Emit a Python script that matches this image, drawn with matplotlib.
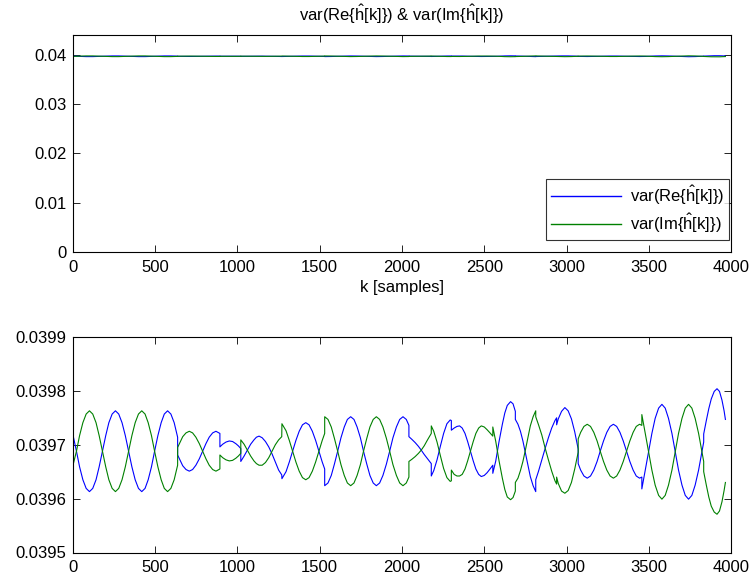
import matplotlib
matplotlib.use("Agg")
import matplotlib.pyplot as plt

plt.rcParams['font.family'] = ['Liberation Sans', 'DejaVu Sans']
plt.rcParams['mathtext.fontset'] = 'custom'
plt.rcParams['mathtext.rm'] = 'Liberation Sans'
plt.rcParams['mathtext.it'] = 'Liberation Sans'

# ---- data ----
k = [0, 21, 40, 60, 80, 100, 120, 140, 159, 179, 199, 218, 238, 258, 278, 298, 318, 338, 358, 378,
     398, 418, 438, 457, 477, 496, 516, 536, 555, 575, 595, 615, 636,
     636, 647, 667, 687, 707, 727, 747, 768, 788, 808, 828, 849, 869, 893,
     893, 910, 930, 950, 970, 990, 1005, 1020,
     1020, 1040, 1060, 1080, 1100, 1115, 1131, 1150, 1170, 1190, 1210, 1230, 1250, 1269,
     1270, 1295, 1315, 1335, 1355, 1375, 1395, 1415, 1435, 1455, 1475, 1495, 1515, 1530,
     1530, 1550, 1570, 1589, 1609, 1629, 1649, 1668, 1688, 1708, 1727, 1747, 1766, 1786, 1805,
     1825, 1844, 1864, 1884, 1905, 1925, 1945, 1966, 1986, 2006, 2026, 2042,
     2042, 2060, 2080, 2100, 2117, 2135, 2155, 2178,
     2178, 2193, 2213, 2233, 2253, 2273, 2293, 2300,
     2300, 2317, 2334, 2350, 2366, 2383, 2399, 2416, 2433, 2449, 2466, 2482, 2500, 2517, 2535, 2552,
     2552, 2570, 2590, 2610, 2625, 2640, 2660, 2675, 2689,
     2689, 2705, 2720, 2735, 2750, 2765, 2780, 2797, 2813,
     2813, 2830, 2850, 2870, 2890, 2910, 2930, 2940, 2940, 2950, 2970, 2990, 3010, 3030, 3050, 3071,
     3071, 3086, 3106, 3126, 3146, 3166, 3186, 3205, 3225, 3245, 3265, 3285, 3305, 3325, 3345,
     3365, 3385, 3405, 3424, 3444, 3458,
     3458, 3479, 3499, 3519, 3539, 3560, 3580, 3600, 3620, 3641, 3661, 3681, 3702, 3722, 3742,
     3762, 3782, 3803, 3823, 3834,
     3834, 3850, 3865, 3880, 3898, 3915, 3930, 3945, 3958, 3966]

var_re = [0.039718, 0.039688, 0.039659, 0.039635, 0.039619, 0.039613, 0.039619, 0.039635, 0.039659,
          0.039688, 0.039717, 0.039741, 0.039757, 0.039763, 0.039757, 0.039741, 0.039717, 0.039688,
          0.039659, 0.039635, 0.039619, 0.039613, 0.039619, 0.039635, 0.039659, 0.039688, 0.039717,
          0.039741, 0.039757, 0.039763, 0.039757, 0.039741, 0.039714,
          0.039681, 0.039674, 0.039661, 0.039654, 0.039651, 0.039654, 0.039662, 0.039674, 0.039688,
          0.039702, 0.039714, 0.039722, 0.039725, 0.039721,
          0.039696, 0.039701, 0.039705, 0.039707, 0.039706, 0.039702, 0.039698, 0.039693,
          0.039669, 0.039679, 0.039690, 0.039701, 0.039709, 0.039714, 0.039716, 0.039713, 0.039706,
          0.039696, 0.039683, 0.039668, 0.039653, 0.039644,
          0.039637, 0.039650, 0.039668, 0.039688, 0.039708, 0.039725, 0.039737, 0.039741, 0.039737,
          0.039725, 0.039708, 0.039688, 0.039668, 0.039655,
          0.039624, 0.039629, 0.039643, 0.039664, 0.039688, 0.039713, 0.039733, 0.039747, 0.039752,
          0.039747, 0.039733, 0.039713, 0.039688, 0.039664, 0.039643, 0.039629, 0.039624, 0.039629,
          0.039643, 0.039664, 0.039688, 0.039713, 0.039733, 0.039747, 0.039752, 0.039747, 0.039736,
          0.039715, 0.039710, 0.039704, 0.039697, 0.039690, 0.039682, 0.039674, 0.039665,
          0.039642, 0.039652, 0.039672, 0.039697, 0.039721, 0.039739, 0.039746, 0.039745,
          0.039727, 0.039731, 0.039734, 0.039735, 0.039731, 0.039721, 0.039706, 0.039688, 0.039670,
          0.039655, 0.039645, 0.039641, 0.039643, 0.039648, 0.039655, 0.039662,
          0.039647, 0.039670, 0.039706, 0.039738, 0.039759, 0.039773, 0.039780, 0.039776, 0.039762,
          0.039747, 0.039738, 0.039725, 0.039707, 0.039685, 0.039662, 0.039641, 0.039624, 0.039613,
          0.039635, 0.039651, 0.039672, 0.039693, 0.039713, 0.039731, 0.039745, 0.039750, 0.039737,
          0.039748, 0.039762, 0.039769, 0.039763, 0.039748, 0.039724, 0.039692,
          0.039665, 0.039653, 0.039642, 0.039638, 0.039642, 0.039653, 0.039669, 0.039688, 0.039707,
          0.039723, 0.039734, 0.039738, 0.039734, 0.039723, 0.039707, 0.039688, 0.039669, 0.039653,
          0.039642, 0.039638, 0.039640,
          0.039618, 0.039653, 0.039687, 0.039721, 0.039749, 0.039768, 0.039775, 0.039768, 0.039749,
          0.039721, 0.039687, 0.039653, 0.039625, 0.039606, 0.039599, 0.039606, 0.039625, 0.039653,
          0.039687, 0.039705,
          0.039720, 0.039745, 0.039767, 0.039785, 0.039799, 0.039804, 0.039799, 0.039783, 0.039763,
          0.039747]

var_im = [0.039662, 0.039688, 0.039717, 0.039741, 0.039757, 0.039763, 0.039757, 0.039741, 0.039717,
          0.039688, 0.039659, 0.039635, 0.039619, 0.039613, 0.039619, 0.039635, 0.039659, 0.039688,
          0.039717, 0.039741, 0.039757, 0.039763, 0.039757, 0.039741, 0.039717, 0.039688, 0.039659,
          0.039635, 0.039619, 0.039613, 0.039619, 0.039635, 0.039662,
          0.039695, 0.039702, 0.039715, 0.039722, 0.039725, 0.039722, 0.039714, 0.039702, 0.039688,
          0.039674, 0.039662, 0.039654, 0.039651, 0.039655,
          0.039681, 0.039676, 0.039672, 0.039670, 0.039671, 0.039675, 0.039679, 0.039684,
          0.039709, 0.039701, 0.039690, 0.039679, 0.039670, 0.039665, 0.039662, 0.039662, 0.039667,
          0.039676, 0.039688, 0.039700, 0.039709, 0.039715,
          0.039739, 0.039726, 0.039708, 0.039688, 0.039668, 0.039651, 0.039639, 0.039635, 0.039639,
          0.039651, 0.039668, 0.039688, 0.039708, 0.039721,
          0.039752, 0.039747, 0.039733, 0.039712, 0.039688, 0.039663, 0.039643, 0.039629, 0.039624,
          0.039629, 0.039643, 0.039663, 0.039688, 0.039712, 0.039733, 0.039747, 0.039752, 0.039747,
          0.039733, 0.039712, 0.039688, 0.039663, 0.039643, 0.039629, 0.039624, 0.039629, 0.039640,
          0.039669, 0.039673, 0.039678, 0.039684, 0.039690, 0.039698, 0.039709, 0.039721,
          0.039735, 0.039725, 0.039705, 0.039680, 0.039656, 0.039639, 0.039632, 0.039633,
          0.039653, 0.039645, 0.039642, 0.039642, 0.039645, 0.039655, 0.039670, 0.039688, 0.039706,
          0.039721, 0.039731, 0.039735, 0.039733, 0.039728, 0.039722, 0.039716,
          0.039733, 0.039706, 0.039670, 0.039638, 0.039617, 0.039603, 0.039598, 0.039602, 0.039614,
          0.039630, 0.039638, 0.039652, 0.039669, 0.039690, 0.039713, 0.039735, 0.039752, 0.039763,
          0.039752, 0.039737, 0.039718, 0.039694, 0.039672, 0.039651, 0.039633, 0.039627, 0.039640,
          0.039628, 0.039614, 0.039610, 0.039615, 0.039630, 0.039655, 0.039686,
          0.039711, 0.039723, 0.039734, 0.039738, 0.039734, 0.039723, 0.039707, 0.039688, 0.039669,
          0.039653, 0.039642, 0.039638, 0.039642, 0.039653, 0.039669, 0.039688, 0.039707, 0.039723,
          0.039734, 0.039738, 0.039736,
          0.039756, 0.039721, 0.039687, 0.039653, 0.039625, 0.039606, 0.039599, 0.039606, 0.039625,
          0.039653, 0.039687, 0.039721, 0.039749, 0.039768, 0.039775, 0.039768, 0.039749, 0.039721,
          0.039687, 0.039669,
          0.039650, 0.039625, 0.039603, 0.039586, 0.039575, 0.039571, 0.039577, 0.039594, 0.039615,
          0.039630]

title = r'var(Re{$\hat{\mathrm{h}}$[k]}) & var(Im{$\hat{\mathrm{h}}$[k]})'
label_re = r'var(Re{$\hat{\mathrm{h}}$[k]})'
label_im = r'var(Im{$\hat{\mathrm{h}}$[k]})'
xticks = [0, 500, 1000, 1500, 2000, 2500, 3000, 3500, 4000]
yticks_top = [0, 0.01, 0.02, 0.03, 0.04]
yticks_bot = [0.0395, 0.0396, 0.0397, 0.0398, 0.0399]

BLUE = '#0000ff'
GREEN = '#008000'
FS = 12

fig = plt.figure(figsize=(7.5, 5.82), dpi=100)
ax1 = fig.add_axes([73/750, 1-252/582, (731-73)/750, (252-35)/582])
ax2 = fig.add_axes([73/750, 1-552.5/582, (731-73)/750, (552.5-337)/582])

for ax in (ax1, ax2):
    ax.plot(k, var_re, color=BLUE, lw=0.8, label=label_re)
    ax.plot(k, var_im, color=GREEN, lw=0.8, label=label_im)
    ax.set_xlim(0, 4000)
    ax.set_xticks(xticks)
    ax.tick_params(direction='in', top=True, right=True, length=5, width=0.6,
                   labelsize=FS)
    ax.tick_params(axis='x', pad=5.5)
    ax.tick_params(axis='y', pad=4.5)
    for s in ax.spines.values():
        s.set_linewidth(0.8)

ax1.set_ylim(0, 0.044)
ax1.set_yticks(yticks_top)
ax1.set_yticklabels(['0', '0.01', '0.02', '0.03', '0.04'])
ax1.set_xlabel('k [samples]', fontsize=FS, labelpad=4)
ax1.set_title(title, fontsize=FS, pad=10)
leg = ax1.legend(loc='lower right', bbox_to_anchor=(0.997, 0.055), fontsize=FS,
                 frameon=True, fancybox=False, edgecolor='black', handlelength=4.2,
                 borderpad=0.3, labelspacing=0.25, handletextpad=0.5, borderaxespad=0)
leg.get_frame().set_linewidth(0.8)
for line in leg.get_lines():
    line.set_linewidth(1.0)

ax2.set_ylim(0.0395, 0.0399)
ax2.set_yticks(yticks_bot)
ax2.set_yticklabels(['0.0395', '0.0396', '0.0397', '0.0398', '0.0399'])

fig.savefig('out.png', dpi=100)
